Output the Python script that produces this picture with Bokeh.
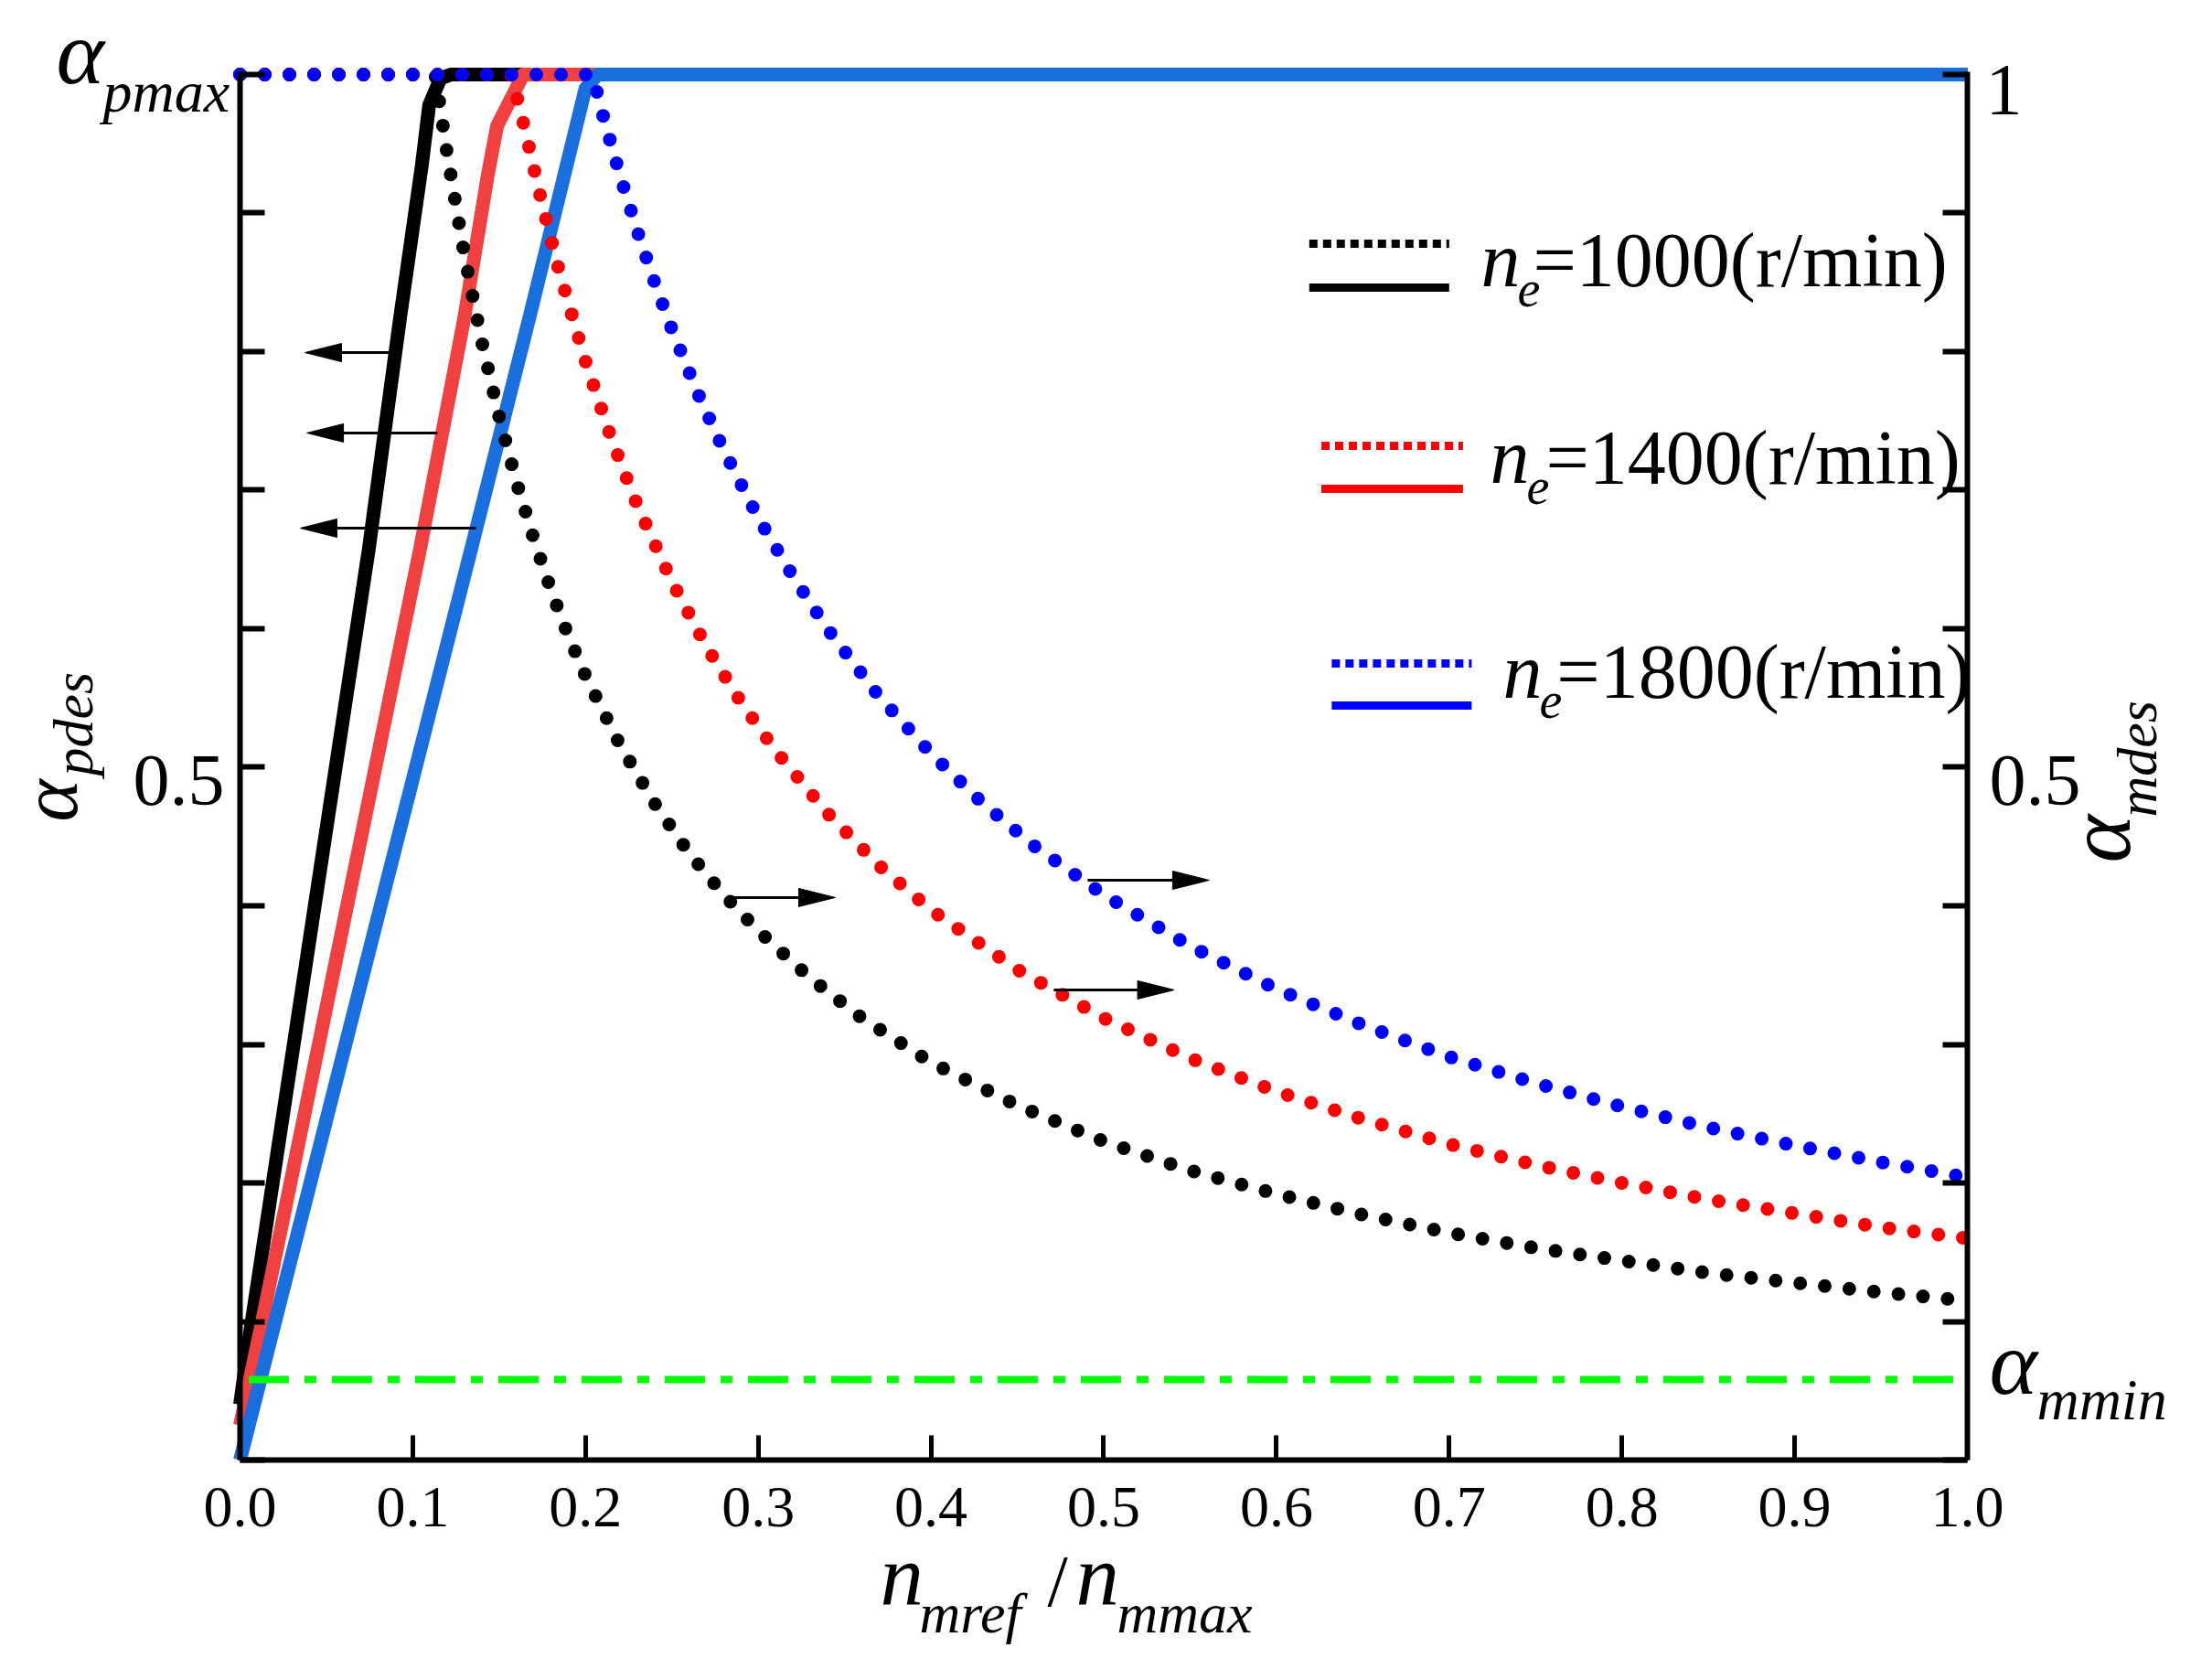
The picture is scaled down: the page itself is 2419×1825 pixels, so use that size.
import math

from bokeh.plotting import figure
from bokeh.models import Label, LinearAxis, FixedTicker, Range1d
from bokeh.embed import file_html
from bokeh.resources import INLINE

# axis ticks
x_ticks = [0.0, 0.1, 0.2, 0.3, 0.4, 0.5, 0.6, 0.7, 0.8, 0.9, 1.0]
x_tick_labels = ["0.0", "0.1", "0.2", "0.3", "0.4", "0.5", "0.6", "0.7", "0.8", "0.9", "1.0"]
y_ticks = [0.0, 0.1, 0.2, 0.3, 0.4, 0.5, 0.6, 0.7, 0.8, 0.9, 1.0]

# alpha_pdes (solid lines, left axis)
pdes_1000_x = [0.0, 0.0064, 0.0746, 0.0926, 0.1053, 0.1095, 0.116, 0.122, 1.0]
pdes_1000_y = [0.04, 0.097, 0.658, 0.824, 0.935, 0.978, 0.997, 1.0, 1.0]
pdes_1400_x = [0.0, 0.0122, 0.1043, 0.1297, 0.1435, 0.1488, 0.164, 1.0]
pdes_1400_y = [0.025, 0.0965, 0.658, 0.8235, 0.928, 0.963, 1.0, 1.0]
pdes_1800_x = [0.0, 0.1339, 0.1673, 0.200, 0.207, 1.0]
pdes_1800_y = [0.0, 0.658, 0.8235, 0.99, 1.0, 1.0]

# alpha_mdes (dotted lines, right axis)
mdes_1000_x = [0.0, 0.113, 0.12, 0.13, 0.14, 0.15, 0.16, 0.17, 0.18, 0.19, 0.20, 0.22, 0.24,
               0.26, 0.28, 0.30, 0.33, 0.36, 0.40, 0.45, 0.50, 0.55, 0.60, 0.65, 0.70, 0.75,
               0.80, 0.85, 0.90, 0.95, 1.00]
mdes_1000_y = [1.0, 1.0, 0.942, 0.869, 0.807, 0.753, 0.706, 0.665, 0.628, 0.595, 0.566, 0.516,
               0.474, 0.438, 0.408, 0.382, 0.348, 0.319, 0.287, 0.256, 0.23, 0.209, 0.192,
               0.177, 0.164, 0.153, 0.144, 0.135, 0.128, 0.121, 0.115]
mdes_1400_x = [0.0, 0.157, 0.165, 0.175, 0.185, 0.20, 0.215, 0.23, 0.25, 0.27, 0.29, 0.31,
               0.34, 0.37, 0.40, 0.45, 0.50, 0.55, 0.60, 0.65, 0.70, 0.75, 0.80, 0.85, 0.90,
               0.95, 1.00]
mdes_1400_y = [1.0, 1.0, 0.96, 0.906, 0.857, 0.793, 0.737, 0.689, 0.634, 0.587, 0.547, 0.512,
               0.467, 0.429, 0.397, 0.354, 0.319, 0.29, 0.266, 0.246, 0.228, 0.213, 0.2,
               0.188, 0.178, 0.168, 0.16]
mdes_1800_x = [0.0, 0.204, 0.21, 0.22, 0.23, 0.24, 0.25, 0.265, 0.28, 0.30, 0.32, 0.34, 0.37,
               0.40, 0.43, 0.46, 0.50, 0.55, 0.60, 0.65, 0.70, 0.75, 0.80, 0.85, 0.90, 0.95,
               1.00]
mdes_1800_y = [1.0, 1.0, 0.971, 0.927, 0.887, 0.85, 0.816, 0.77, 0.729, 0.68, 0.638, 0.6,
               0.551, 0.51, 0.474, 0.443, 0.408, 0.371, 0.34, 0.314, 0.291, 0.272, 0.255,
               0.24, 0.227, 0.215, 0.204]

# alpha_mmin
mmin_x = [0.005, 1.0]
mmin_y = [0.0581, 0.0581]

# arrows pointing to the left axis (solid lines) and to the right axis (dotted lines)
left_arrow_tail = [0.0863, 0.1143, 0.1366]
left_arrow_tip = [0.0376, 0.0387, 0.0349]
left_arrow_y = [0.7993, 0.7413, 0.6726]
right_arrow_tail = [0.2837, 0.4711, 0.4907]
right_arrow_tip = [0.3446, 0.5408, 0.5611]
right_arrow_y = [0.406, 0.3393, 0.4185]

# legend
legend_labels = ["=1000(r/min)", "=1400(r/min)", "=1800(r/min)"]
legend_colors = ["#000000", "#ff0000", "#0000ff"]
legend_x0 = [0.619, 0.626, 0.632]
legend_x1 = [0.700, 0.708, 0.713]
legend_dot_y = [0.8779, 0.732, 0.5749]
legend_line_y = [0.8462, 0.701, 0.5446]
legend_n_x = [0.7184, 0.7237, 0.7311]
legend_e_x = [0.7395, 0.7448, 0.7522]
legend_eq_x = [0.7485, 0.7559, 0.7622]
legend_base_y = [0.8422, 0.6997, 0.5452]
legend_sub_y = [0.829, 0.6865, 0.532]

FONT = "Liberation Serif"
PX_X = 1889.0   # pixels per x unit
PX_Y = 1515.0   # pixels per y unit

# the frame fills nearly the whole canvas so that texts around the axes are not clipped;
# the axes are pinned at 0 and 1
p = figure(width=2410, height=1820,
           x_range=Range1d(-0.13870, 1.13182), y_range=Range1d(-0.14455, 1.04686),
           output_backend="svg", toolbar_location=None,
           min_border_left=0, min_border_right=10,
           min_border_top=10, min_border_bottom=5)
p.outline_line_color = None
p.xgrid.visible = False
p.ygrid.visible = False
p.background_fill_color = "white"
p.border_fill_color = "white"


def style_axis(ax, ticks, bounds, loc):
    ax.ticker = FixedTicker(ticks=ticks)
    ax.fixed_location = loc
    ax.bounds = bounds
    ax.axis_line_width = 6
    ax.major_tick_line_width = 6
    ax.major_tick_in = 27
    ax.major_tick_out = 0
    ax.minor_tick_line_color = None
    ax.major_label_text_color = None
    ax.major_label_text_font_size = "0px"
    ax.major_label_standoff = 0


style_axis(p.xaxis[0], x_ticks, (0, 1), 0)
p.xaxis[0].major_tick_line_width = 5
style_axis(p.yaxis[0], y_ticks, (0, 1.002), 0)
ra = LinearAxis()
style_axis(ra, y_ticks, (0, 1.002), 1)
p.add_layout(ra, "right")

# solid lines: alpha_pdes
p.line(pdes_1000_x, pdes_1000_y, line_color="#000000", line_width=15, line_join="round")
p.line(pdes_1400_x, pdes_1400_y, line_color="#f04040", line_width=15, line_join="round")
p.line(pdes_1800_x, pdes_1800_y, line_color="#1a6fdf", line_width=15, line_join="round")

# alpha_mmin
p.line(mmin_x, mmin_y, line_color="#00ff00", line_width=8, line_dash="44 17 13 17")

# dotted lines: alpha_mdes
for xs, ys, c in [(mdes_1000_x, mdes_1000_y, "#000000"),
                  (mdes_1400_x, mdes_1400_y, "#ff0000"),
                  (mdes_1800_x, mdes_1800_y, "#0000ff")]:
    p.line(xs, ys, line_color=c, line_width=15, line_dash="0 27", line_cap="round",
           line_join="round")

# arrows
head_len = 40 / PX_X
head_half = 10 / PX_Y
shaft_x0, shaft_x1, shaft_y, head_xs, head_ys = [], [], [], [], []
for tail, tip, y in zip(left_arrow_tail, left_arrow_tip, left_arrow_y):
    shaft_x0.append(tail)
    shaft_x1.append(tip + head_len * 0.5)
    shaft_y.append(y)
    head_xs.append([tip, tip + head_len, tip + head_len])
    head_ys.append([y, y + head_half, y - head_half])
for tail, tip, y in zip(right_arrow_tail, right_arrow_tip, right_arrow_y):
    shaft_x0.append(tail)
    shaft_x1.append(tip - head_len * 0.5)
    shaft_y.append(y)
    head_xs.append([tip, tip - head_len, tip - head_len])
    head_ys.append([y, y + head_half, y - head_half])
p.segment(x0=shaft_x0, y0=shaft_y, x1=shaft_x1, y1=shaft_y, line_color="black", line_width=3)
p.patches(head_xs, head_ys, fill_color="black", line_color="black", line_width=1)

# legend samples
for i in range(3):
    p.line([legend_x0[i], legend_x1[i]], [legend_dot_y[i], legend_dot_y[i]],
           line_color=legend_colors[i], line_width=9, line_dash="9 6")
    p.line([legend_x0[i], legend_x1[i]], [legend_line_y[i], legend_line_y[i]],
           line_color=legend_colors[i], line_width=9)


# bokeh drops "alphabetic" text about 0.43 em below the anchor, lift it back
BASE_SHIFT = 0.43


def put(x, y, text, size, style="normal", angle=0.0, align="left"):
    if angle:
        x -= BASE_SHIFT * size / PX_X
    else:
        y += BASE_SHIFT * size / PX_Y
    p.add_layout(Label(x=x, y=y, text=text, text_font=FONT, text_font_size=f"{size}px",
                       text_font_style=style, text_align=align, text_baseline="alphabetic",
                       angle=angle, text_color="black"))


for i in range(3):
    put(legend_n_x[i], legend_base_y[i], "n", 86, "italic")
    put(legend_e_x[i], legend_sub_y[i], "e", 56, "italic")
    put(legend_eq_x[i], legend_base_y[i], legend_labels[i], 84)

# tick labels
for xt, lab in zip(x_ticks, x_tick_labels):
    put(xt, -0.0521, lab, 64, align="center")
put(-0.009, 0.468, "0.5", 80, align="right")
put(1.0127, 0.468, "0.5", 80)
put(1.0106, 0.9663, "1", 80)

# alpha_pmax and alpha_mmin
put(-0.1064, 0.9875, "α", 100, "italic")
put(-0.0794, 0.9696, "pmax", 64, "italic")
put(1.0127, 0.0416, "α", 100, "italic")
put(1.0402, 0.0251, "mmin", 64, "italic")

# axis titles
put(-0.0900, 0.4607, "α", 88, "italic", angle=math.pi / 2)
put(-0.0826, 0.4937, "pdes", 62, "italic", angle=math.pi / 2)
put(1.099, 0.431, "α", 100, "italic", angle=math.pi / 2)
put(1.1122, 0.464, "mdes", 62, "italic", angle=math.pi / 2)

put(0.3706, -0.1102, "n", 95, "italic")
put(0.3933, -0.128, "mref", 62, "italic")
put(0.4674, -0.1102, "/", 80)
put(0.4839, -0.1102, "n", 95, "italic")
put(0.5077, -0.128, "mmax", 62, "italic")

open("out.html", "w").write(file_html(p, INLINE))
